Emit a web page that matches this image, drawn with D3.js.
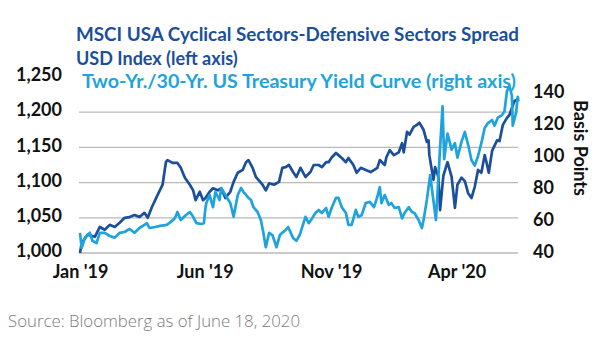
<!DOCTYPE html>
<html>
<head>
<meta charset="utf-8">
<script src="https://cdn.jsdelivr.net/npm/d3@7"></script>
<style>
  body { margin: 0; background: #fff; }
  svg { display: block; font-family: Lato, "Open Sans", sans-serif; }
</style>
</head>
<body>
<svg id="chart" width="605" height="341"></svg>
<script>
// MSCI USA Cyclical-Defensive spread index (left axis)
const spreadSeries = [
  ["2019-01-01", 1000], ["2019-01-03", 1014], ["2019-01-10", 1026], ["2019-01-19", 1023],
  ["2019-01-25", 1037], ["2019-01-31", 1033], ["2019-02-06", 1040], ["2019-02-12", 1037],
  ["2019-02-18", 1043], ["2019-02-24", 1050], ["2019-03-02", 1051], ["2019-03-08", 1054],
  ["2019-03-14", 1051], ["2019-03-20", 1057], ["2019-03-24", 1050], ["2019-03-29", 1065],
  ["2019-04-04", 1080], ["2019-04-11", 1097], ["2019-04-15", 1129], ["2019-04-17", 1132],
  ["2019-04-23", 1128], ["2019-04-29", 1128], ["2019-05-03", 1121], ["2019-05-08", 1107],
  ["2019-05-14", 1097], ["2019-05-18", 1089], ["2019-05-21", 1075], ["2019-05-26", 1087],
  ["2019-05-30", 1075], ["2019-06-02", 1078], ["2019-06-07", 1087], ["2019-06-11", 1092],
  ["2019-06-17", 1089], ["2019-06-21", 1092], ["2019-06-26", 1078], ["2019-07-02", 1087],
  ["2019-07-06", 1101], ["2019-07-11", 1114], ["2019-07-17", 1118], ["2019-07-21", 1129],
  ["2019-07-24", 1132], ["2019-07-29", 1121], ["2019-08-02", 1108], ["2019-08-05", 1104],
  ["2019-08-10", 1097], ["2019-08-14", 1089], ["2019-08-18", 1099], ["2019-08-24", 1097],
  ["2019-08-30", 1101], ["2019-09-03", 1121], ["2019-09-07", 1122], ["2019-09-11", 1125],
  ["2019-09-16", 1115], ["2019-09-20", 1108], ["2019-09-25", 1121], ["2019-10-01", 1108],
  ["2019-10-07", 1115], ["2019-10-11", 1125], ["2019-10-17", 1125], ["2019-10-21", 1122],
  ["2019-10-26", 1129], ["2019-10-29", 1129], ["2019-11-02", 1136], ["2019-11-07", 1142],
  ["2019-11-10", 1139], ["2019-11-14", 1135], ["2019-11-19", 1129], ["2019-11-22", 1135],
  ["2019-11-28", 1125], ["2019-12-02", 1114], ["2019-12-07", 1121], ["2019-12-13", 1118],
  ["2019-12-19", 1115], ["2019-12-27", 1121], ["2019-12-30", 1132], ["2020-01-05", 1125],
  ["2020-01-07", 1136], ["2020-01-11", 1146], ["2020-01-16", 1139], ["2020-01-22", 1143],
  ["2020-01-26", 1156], ["2020-01-28", 1143], ["2020-02-01", 1172], ["2020-02-04", 1168],
  ["2020-02-09", 1179], ["2020-02-13", 1182], ["2020-02-16", 1185], ["2020-02-21", 1175],
  ["2020-02-25", 1158], ["2020-02-27", 1160], ["2020-02-28", 1139], ["2020-03-04", 1104],
  ["2020-03-06", 1122], ["2020-03-10", 1108], ["2020-03-12", 1061], ["2020-03-16", 1110],
  ["2020-03-21", 1129], ["2020-03-26", 1108], ["2020-03-30", 1064], ["2020-04-02", 1097],
  ["2020-04-07", 1107], ["2020-04-11", 1102], ["2020-04-15", 1085], ["2020-04-19", 1078],
  ["2020-04-23", 1094], ["2020-04-27", 1118], ["2020-05-01", 1114], ["2020-05-05", 1139],
  ["2020-05-07", 1130], ["2020-05-10", 1114], ["2020-05-14", 1145], ["2020-05-20", 1160],
  ["2020-05-23", 1159], ["2020-05-27", 1182], ["2020-06-01", 1192], ["2020-06-04", 1196],
  ["2020-06-10", 1216], ["2020-06-12", 1217], ["2020-06-15", 1220]
];

// 2yr/30yr treasury curve, basis points (right axis)
const curveSeries = [
  ["2019-01-01", 52], ["2019-01-03", 42.5], ["2019-01-07", 49], ["2019-01-13", 52],
  ["2019-01-16", 47], ["2019-01-21", 45.6], ["2019-01-25", 52], ["2019-01-31", 52],
  ["2019-02-06", 50], ["2019-02-12", 49], ["2019-02-18", 52], ["2019-02-24", 52.5],
  ["2019-03-02", 54.4], ["2019-03-08", 52], ["2019-03-14", 55], ["2019-03-20", 57],
  ["2019-03-23", 58], ["2019-03-26", 55], ["2019-04-02", 55.6], ["2019-04-08", 56.3],
  ["2019-04-16", 57], ["2019-04-21", 58.8], ["2019-04-26", 61.3], ["2019-04-29", 65],
  ["2019-05-03", 60], ["2019-05-09", 63], ["2019-05-14", 65], ["2019-05-18", 62],
  ["2019-05-22", 58], ["2019-05-28", 57.5], ["2019-05-31", 58], ["2019-06-02", 68],
  ["2019-06-03", 70.6], ["2019-06-07", 75.6], ["2019-06-11", 68], ["2019-06-14", 77.5],
  ["2019-06-19", 72.5], ["2019-06-21", 80], ["2019-06-26", 75.6], ["2019-07-02", 70.6],
  ["2019-07-06", 62], ["2019-07-11", 75.6], ["2019-07-15", 80], ["2019-07-18", 77.5],
  ["2019-07-23", 74.4], ["2019-07-27", 72.5], ["2019-07-30", 68], ["2019-08-04", 65],
  ["2019-08-08", 60], ["2019-08-11", 52], ["2019-08-14", 43], ["2019-08-18", 52],
  ["2019-08-22", 50.6], ["2019-08-27", 43], ["2019-08-31", 50.6], ["2019-09-03", 52],
  ["2019-09-07", 53.8], ["2019-09-10", 55.6], ["2019-09-16", 48.8], ["2019-09-20", 47],
  ["2019-09-24", 50.6], ["2019-09-26", 53.8], ["2019-10-01", 62], ["2019-10-05", 58],
  ["2019-10-09", 61], ["2019-10-13", 64.4], ["2019-10-17", 66.3], ["2019-10-21", 64.4],
  ["2019-10-26", 67.5], ["2019-10-29", 62], ["2019-11-02", 68], ["2019-11-07", 73.8],
  ["2019-11-10", 73.8], ["2019-11-14", 68], ["2019-11-19", 64.4], ["2019-11-22", 57],
  ["2019-11-26", 57], ["2019-12-01", 66.3], ["2019-12-04", 62], ["2019-12-08", 63],
  ["2019-12-13", 70.6], ["2019-12-18", 71.3], ["2019-12-23", 68], ["2019-12-27", 74.4],
  ["2019-12-30", 80.6], ["2020-01-01", 70.6], ["2020-01-05", 75.6], ["2020-01-10", 69.4],
  ["2020-01-13", 70.6], ["2020-01-17", 67.5], ["2020-01-22", 68], ["2020-01-26", 61],
  ["2020-01-29", 64.4], ["2020-02-03", 68], ["2020-02-07", 65], ["2020-02-10", 64.4],
  ["2020-02-15", 60], ["2020-02-19", 55], ["2020-02-21", 60], ["2020-02-25", 72.5],
  ["2020-02-29", 88], ["2020-03-04", 72], ["2020-03-07", 60], ["2020-03-11", 96],
  ["2020-03-15", 131], ["2020-03-17", 98], ["2020-03-21", 114], ["2020-03-26", 104],
  ["2020-03-30", 108], ["2020-04-02", 99], ["2020-04-07", 109], ["2020-04-11", 115],
  ["2020-04-15", 107], ["2020-04-19", 97.5], ["2020-04-23", 94], ["2020-04-27", 100],
  ["2020-05-01", 108], ["2020-05-05", 117.5], ["2020-05-09", 120.6], ["2020-05-14", 122.5],
  ["2020-05-17", 119], ["2020-05-21", 124], ["2020-05-26", 125.6], ["2020-05-29", 128],
  ["2020-06-01", 140.6], ["2020-06-04", 143.8], ["2020-06-07", 137.5], ["2020-06-08", 119],
  ["2020-06-12", 127], ["2020-06-14", 137], ["2020-06-15", 134]
];

const leftTicks = [1000, 1050, 1100, 1150, 1200, 1250];
const gridTicks = [1000, 1050, 1100, 1150, 1200];
const rightTicks = [40, 60, 80, 100, 120, 140];
const dateTicks = ["2019-01-01", "2019-06-01", "2019-11-01", "2020-04-01"];

const titleLines = [
  "MSCI USA Cyclical Sectors-Defensive Sectors Spread",
  "USD Index (left axis)"
];
const curveTitle = "Two-Yr./30-Yr. US Treasury Yield Curve (right axis)";
const sourceNote = "Source: Bloomberg as of June 18, 2020";

const darkBlue = "#1b4f9b";
const lightBlue = "#1ea3de";

const parseDate = d3.timeParse("%Y-%m-%d");
const svg = d3.select("#chart");

const x = d3.scaleTime()
    .domain([parseDate("2019-01-01"), parseDate("2020-06-18")])
    .range([80, 521]);
const yLeft = d3.scaleLinear().domain([1000, 1250]).range([253, 77]);
const yRight = d3.scaleLinear().domain([40, 140]).range([252, 92]);

// gridlines
svg.append("g")
    .selectAll("line")
    .data(gridTicks)
    .join("line")
    .attr("x1", 79)
    .attr("x2", 518)
    .attr("y1", d => yLeft(d))
    .attr("y2", d => yLeft(d))
    .attr("stroke", "#b9b9b9")
    .attr("stroke-width", 1.3);

// lines
const spreadLine = d3.line()
    .x(d => x(parseDate(d[0])))
    .y(d => yLeft(d[1]));
const curveLine = d3.line()
    .x(d => x(parseDate(d[0])))
    .y(d => yRight(d[1]));

svg.append("path")
    .datum(spreadSeries)
    .attr("d", spreadLine)
    .attr("fill", "none")
    .attr("stroke", darkBlue)
    .attr("stroke-width", 2.7)
    .attr("stroke-linejoin", "round");

svg.append("path")
    .datum(curveSeries)
    .attr("d", curveLine)
    .attr("fill", "none")
    .attr("stroke", lightBlue)
    .attr("stroke-width", 2.7)
    .attr("stroke-linejoin", "round");

// axes
const leftAxis = svg.append("g")
    .attr("transform", "translate(62,-2)")
    .call(d3.axisLeft(yLeft).tickValues(leftTicks).tickFormat(d3.format(",")).tickSize(0).tickPadding(0));
const rightAxis = svg.append("g")
    .attr("transform", "translate(533,0)")
    .call(d3.axisRight(yRight).tickValues(rightTicks).tickSize(0).tickPadding(0));
const bottomAxis = svg.append("g")
    .attr("transform", "translate(0,265)")
    .call(d3.axisBottom(x).tickValues(dateTicks.map(parseDate)).tickFormat(d3.timeFormat("%b '%y")).tickSize(0).tickPadding(0));

[leftAxis, rightAxis, bottomAxis].forEach(g => {
    g.select(".domain").remove();
    g.selectAll("text")
        .attr("fill", "#111")
        .style("font-family", "Lato, sans-serif")
        .style("font-size", "18px")
        .style("font-weight", "bold");
});

svg.append("text")
    .attr("transform", "translate(574,148) rotate(90)")
    .attr("text-anchor", "middle")
    .attr("fill", "#111")
    .style("font-size", "18px")
    .style("font-weight", "bold")
    .text("Basis Points");

// titles
svg.append("text")
    .attr("x", 76).attr("y", 41)
    .attr("fill", darkBlue)
    .attr("textLength", 443).attr("lengthAdjust", "spacingAndGlyphs")
    .style("font-size", "18px").style("font-weight", "bold")
    .text(titleLines[0]);
svg.append("text")
    .attr("x", 76).attr("y", 65)
    .attr("fill", darkBlue)
    .style("font-size", "18px").style("font-weight", "bold")
    .text(titleLines[1]);
svg.append("text")
    .attr("x", 82).attr("y", 88)
    .attr("fill", lightBlue)
    .attr("textLength", 434).attr("lengthAdjust", "spacingAndGlyphs")
    .style("font-size", "18px").style("font-weight", "bold")
    .text(curveTitle);

svg.append("text")
    .attr("x", 8).attr("y", 327)
    .attr("fill", "#7a7a7a")
    .attr("textLength", 292).attr("lengthAdjust", "spacingAndGlyphs")
    .style("font-family", "'Open Sans', sans-serif")
    .style("font-size", "17px")
    .style("font-weight", 300)
    .text(sourceNote);
</script>
</body>
</html>
